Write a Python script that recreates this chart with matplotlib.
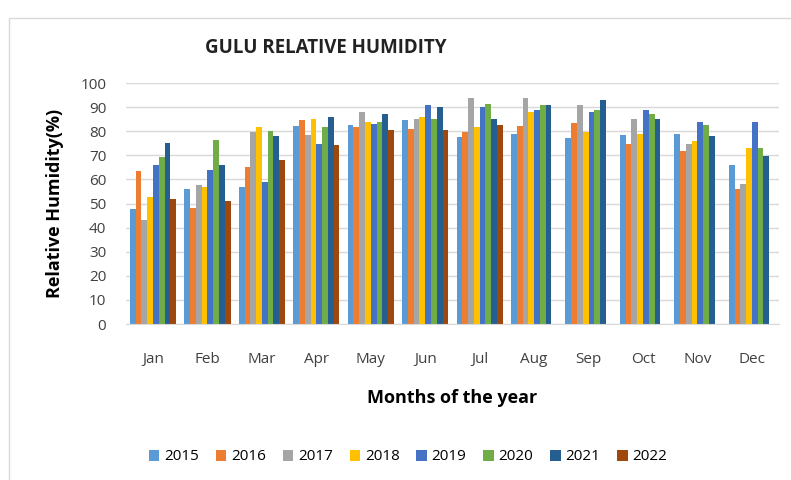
import matplotlib.pyplot as plt
import numpy as np
from matplotlib.patches import Rectangle

months = ['Jan', 'Feb', 'Mar', 'Apr', 'May', 'Jun',
          'Jul', 'Aug', 'Sep', 'Oct', 'Nov', 'Dec']
years = ['2015', '2016', '2017', '2018', '2019', '2020', '2021', '2022']

rh_2015 = [47.6, 56.2, 56.8, 82.2, 82.7, 84.5, 77.7, 79.0, 77.2, 78.6, 78.8, 66.0]
rh_2016 = [63.3, 48.1, 65.1, 84.6, 81.6, 81.0, 79.8, 82.0, 83.4, 74.8, 71.8, 56.2]
rh_2017 = [43.0, 57.8, 79.8, 78.6, 88.0, 84.9, 93.9, 93.9, 90.9, 84.9, 74.8, 58.0]
rh_2018 = [52.8, 57.0, 81.9, 84.9, 84.0, 85.9, 81.9, 88.0, 79.8, 79.0, 75.9, 72.9]
rh_2019 = [65.8, 63.9, 58.8, 74.8, 83.0, 90.9, 89.9, 88.9, 88.0, 88.9, 83.8, 83.8]
rh_2020 = [69.4, 76.5, 79.9, 81.9, 83.7, 85.2, 91.1, 90.9, 88.9, 87.3, 82.4, 73.2]
rh_2021 = [75.1, 65.8, 77.9, 85.9, 87.0, 89.9, 84.9, 90.9, 92.9, 84.9, 77.9, 69.8]
rh_2022 = [52.0, 51.0, 68.2, 74.4, 80.6, 80.4, 82.4, np.nan, np.nan, np.nan, np.nan, np.nan]

series = [rh_2015, rh_2016, rh_2017, rh_2018, rh_2019, rh_2020, rh_2021, rh_2022]
colors = ['#5B9BD5', '#ED7D31', '#A5A5A5', '#FFC000',
          '#4472C4', '#70AD47', '#255E91', '#9E480E']

plt.rcParams['font.family'] = ['Open Sans', 'DejaVu Sans']

fig = plt.figure(figsize=(7.91, 4.80), dpi=100)
ax = fig.add_axes([0.159, 0.325, 0.826, 0.502])

# light frame round the chart, as in the Excel export
fig.patches.append(Rectangle((9 / 791, -0.05), 1.2, 1 - 18 / 480 + 0.05,
                             transform=fig.transFigure, fill=False,
                             edgecolor='#D9D9D9', linewidth=1))

x = np.arange(len(months))
group = 0.85
w = group / len(years)
for i, (yr, vals, c) in enumerate(zip(years, series, colors)):
    ax.bar(x - group / 2 + w * (i + 0.5), vals, width=w, color=c, label=yr)

ax.set_xlim(-0.5, len(months) - 0.5)
ax.set_ylim(0, 100)
ax.set_yticks(range(0, 101, 10))
ax.set_xticks(x)
ax.set_xticklabels(months)
ax.yaxis.grid(True, color='#D9D9D9', linewidth=1)
ax.set_axisbelow(True)
for s in ['left', 'top', 'right']:
    ax.spines[s].set_visible(False)
ax.spines['bottom'].set_color('#D9D9D9')
ax.tick_params(axis='both', length=0, labelsize=11, colors='#404040')
ax.tick_params(axis='y', pad=14)
ax.tick_params(axis='x', pad=20)

ax.set_ylabel('Relative Humidity(%)', fontsize=13, fontweight='bold', labelpad=12)
ax.set_xlabel('Months of the year', fontsize=13, fontweight='bold', labelpad=16)

fig.text(205 / 791, 1 - 48 / 480, 'GULU RELATIVE HUMIDITY', fontsize=13.5,
         fontweight='bold', va='center', ha='left', color='#222222')

ax.legend(loc='center', bbox_to_anchor=(408 / 791, 1 - 457 / 480),
          bbox_transform=fig.transFigure, ncol=8, frameon=False,
          fontsize=11, handlelength=0.7, handleheight=0.7,
          handletextpad=0.3, columnspacing=1.1)

fig.savefig('out.png', dpi=100)
